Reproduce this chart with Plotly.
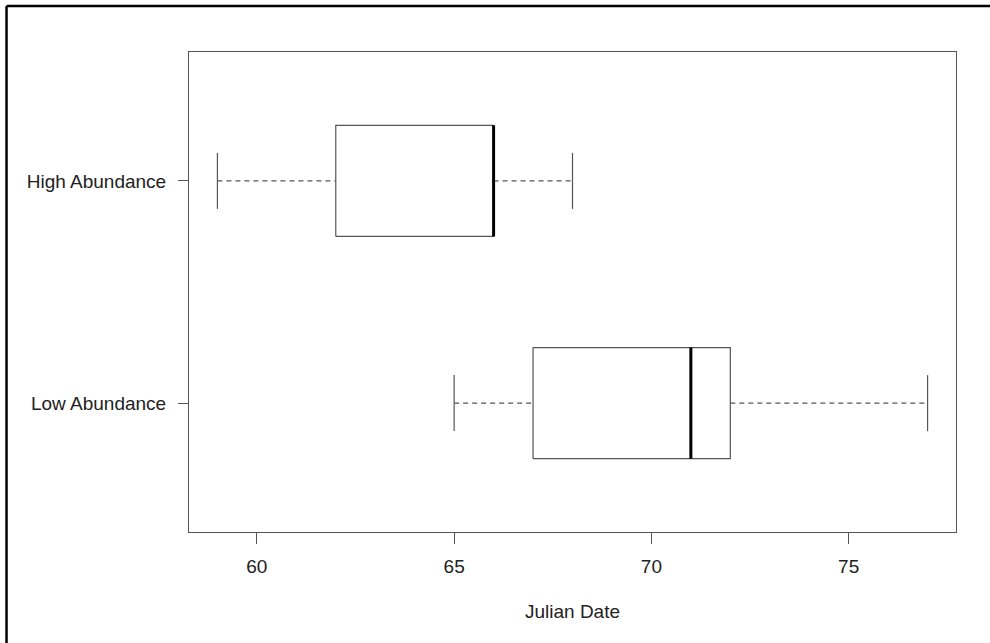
import plotly.graph_objects as go

groups = ["Low Abundance", "High Abundance"]
mins = [65, 59]
q1s = [67, 62]
medians = [71, 66]
q3s = [72, 66]
maxs = [77, 68]
x_ticks = [60, 65, 70, 75]

FONT = "Liberation Sans, Arial, Helvetica, sans-serif"
LINE = "#555555"
HALF = 0.25
CAP = 0.126

fig = go.Figure()
for i, g in enumerate(groups):
    pos = i + 1
    # box
    fig.add_trace(go.Scatter(
        x=[q1s[i], q3s[i], q3s[i], q1s[i], q1s[i]],
        y=[pos - HALF, pos - HALF, pos + HALF, pos + HALF, pos - HALF],
        mode="lines", line=dict(color=LINE, width=1.2), hoverinfo="skip", showlegend=False))
    # whiskers
    for a, b in [(mins[i], q1s[i]), (q3s[i], maxs[i])]:
        fig.add_trace(go.Scatter(
            x=[a, b], y=[pos, pos], mode="lines",
            line=dict(color=LINE, width=1.2, dash="5px,4px"), hoverinfo="skip", showlegend=False))
    # caps
    for v in [mins[i], maxs[i]]:
        fig.add_trace(go.Scatter(
            x=[v, v], y=[pos - CAP, pos + CAP], mode="lines",
            line=dict(color=LINE, width=1.2), hoverinfo="skip", showlegend=False))
    # median
    fig.add_trace(go.Scatter(
        x=[medians[i], medians[i]], y=[pos - HALF, pos + HALF], mode="lines",
        line=dict(color="black", width=3), hoverinfo="skip", showlegend=False))

fig.update_layout(
    width=990, height=643,
    margin=dict(l=189, r=34, t=52, b=111),
    paper_bgcolor="white", plot_bgcolor="white",
    font=dict(family=FONT, size=19, color="#222222"),
    xaxis=dict(
        range=[58.28, 77.72], tickvals=x_ticks, ticktext=[str(t) for t in x_ticks],
        showgrid=False, zeroline=False, showline=True, mirror=True,
        linecolor=LINE, linewidth=1, ticks="outside", ticklen=11, tickcolor=LINE,
        ticklabelstandoff=6,
        tickfont=dict(size=19, color="#222222"),
        title=dict(text="Julian Date", font=dict(size=19, color="#222222"), standoff=28),
    ),
    yaxis=dict(
        range=[0.42, 2.58], tickvals=[1, 2], ticktext=groups,
        showgrid=False, zeroline=False, showline=True, mirror=True,
        linecolor=LINE, linewidth=1, ticks="outside", ticklen=10, tickcolor=LINE,
        ticklabelstandoff=8,
        tickfont=dict(size=19, color="#222222"),
    ),
    shapes=[
        dict(type="line", xref="paper", yref="paper",
             x0=-0.2379, x1=-0.2379, y0=-0.35, y1=1.0958,
             line=dict(color="black", width=2.5)),
        dict(type="line", xref="paper", yref="paper",
             x0=-0.2379, x1=1.1, y0=1.0958, y1=1.0958,
             line=dict(color="black", width=2.5)),
    ],
)

fig.write_html("out.html", config={"displayModeBar": False},
               post_script="document.body.style.margin='0px';")
